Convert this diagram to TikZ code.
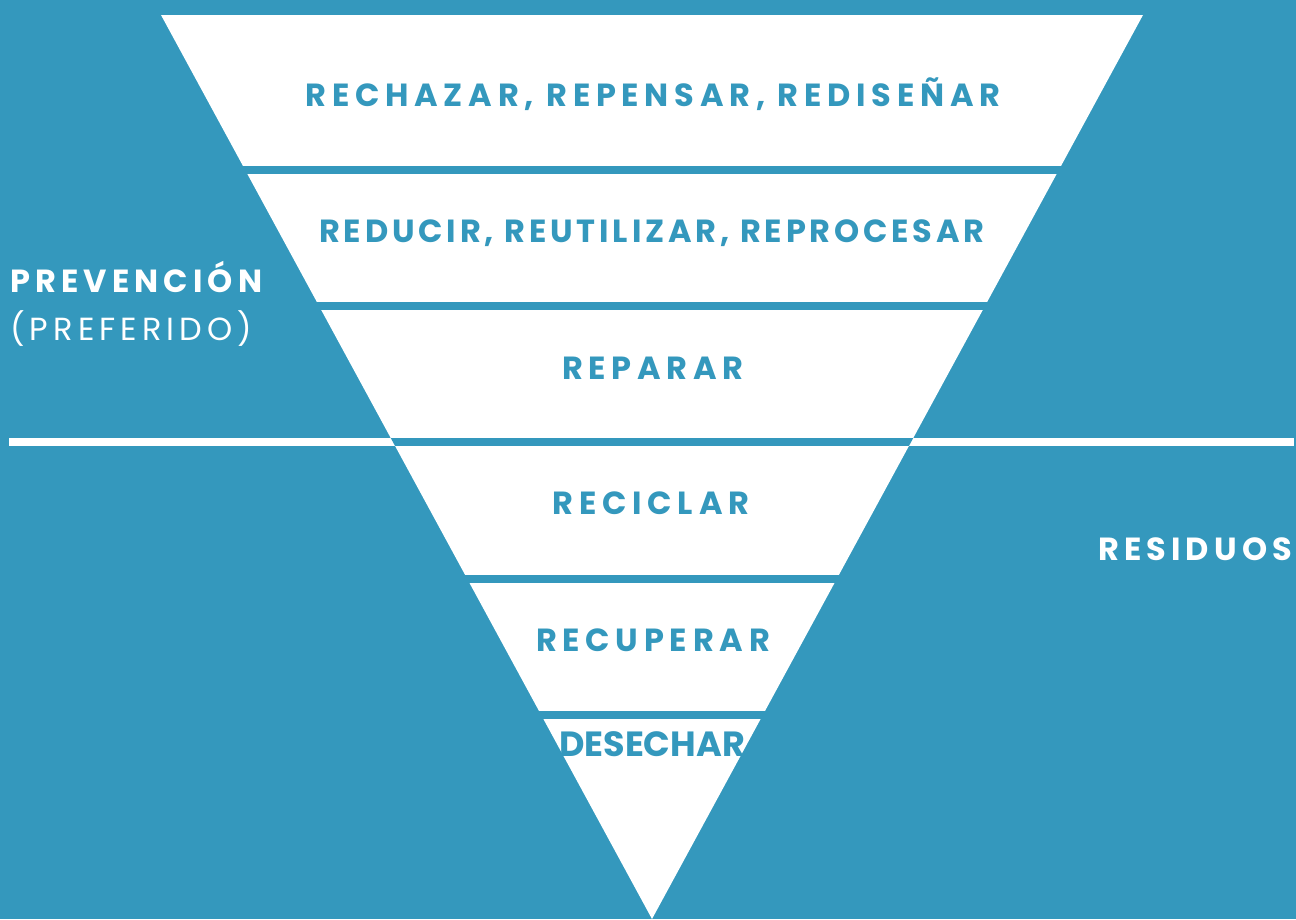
\documentclass[tikz,border=0pt]{standalone}
\usepackage{fontspec}
\setmainfont{Poppins}
\newfontfamily\widefont[LetterSpace=18]{Poppins}
\newfontfamily\tightfont[LetterSpace=12]{Poppins}
\newfontfamily\sidefont[LetterSpace=16]{Poppins}
\definecolor{ecoblue}{RGB}{52,152,189}

\begin{document}
\begin{tikzpicture}[x=1pt, y=-1pt,
    tier/.style={inner sep=0pt, anchor=base, text=ecoblue,
      font=\fontsize{32}{32}\selectfont\widefont\bfseries},
    side/.style={inner sep=0pt, anchor=base west, text=white,
      font=\fontsize{32}{32}\selectfont\sidefont}]
  % fondo y linea divisoria
  \fill[ecoblue] (0,0) rectangle (1296,919);
  \fill[white] (9,438) rectangle (1294,446);
  % piramide invertida, seis franjas
  \begin{scope}
    \clip (161,15) -- (1143,15) -- (652,919) -- cycle;
    \fill[ecoblue] (0,0) rectangle (1296,919);
    \foreach \ytop/\ybot in {15/166, 174/302, 310/438, 446/575, 583/711, 719/919}
      \fill[white] (0,\ytop) rectangle (1296,\ybot);
  \end{scope}
  % textos de cada franja
  \node[tier] (rechazar)  at (653,106) {RECHAZAR, REPENSAR, REDISEÑAR};
  \node[tier, font=\fontsize{32}{32}\selectfont\tightfont\bfseries] (reducir) at (652,242) {REDUCIR, REUTILIZAR, REPROCESAR};
  \node[tier] (reparar)   at (653,379) {REPARAR};
  \node[tier] (reciclar)  at (651,514) {RECICLAR};
  \node[tier] (recuperar) at (653,651) {RECUPERAR};
  \node[tier, font=\fontsize{35}{35}\selectfont\bfseries] (desechar) at (652,756) {DESECHAR};
  % etiquetas laterales
  \node[side, font=\fontsize{32}{32}\selectfont\sidefont\bfseries] (prevencion) at (10,292) {PREVENCIÓN};
  \node[side] (preferido) at (10,340) {(PREFERIDO)};
  \node[side, font=\fontsize{32}{32}\selectfont\sidefont\bfseries] (residuos) at (1098,560) {RESIDUOS};
\end{tikzpicture}
\end{document}
